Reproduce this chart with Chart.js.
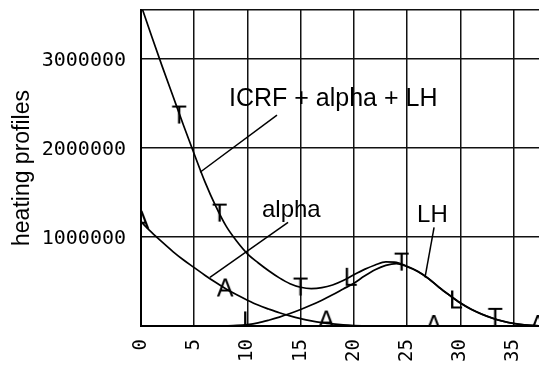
<!DOCTYPE html>
<html lang="en">
  <head>
    <meta charset="UTF-8" />
    <script src="https://cdn.jsdelivr.net/npm/chart.js@4.4.1/dist/chart.umd.min.js"></script>
    <title>heating profiles</title>
    <style>
      body { margin: 0; background: #fff; }
    </style>
  </head>
  <body>
    <canvas id="chart" width="539" height="369"></canvas>
    <script>
      // values
      const xs = [0, 1, 2, 3, 4, 5, 6, 7, 8, 9, 10, 11, 12, 13, 14, 15, 16, 17, 18, 19,
        20, 21, 22, 23, 24, 25, 26, 27, 28, 29, 30, 31, 32, 33, 34, 35, 36, 37, 38];
      const totalHeat = [3.6e6, 3.25e6, 2.91e6, 2.58e6, 2.25e6, 1.93e6, 1.62e6, 1.35e6, 1.12e6, 0.95e6,
        0.81e6, 0.71e6, 0.62e6, 0.54e6, 0.475e6, 0.435e6, 0.42e6, 0.43e6, 0.46e6, 0.51e6,
        0.575e6, 0.635e6, 0.685e6, 0.72e6, 0.715e6, 0.67e6, 0.615e6, 0.535e6, 0.435e6, 0.345e6,
        0.26e6, 0.19e6, 0.135e6, 0.09e6, 0.055e6, 0.03e6, 0.013e6, 0.004e6, 0];
      const alphaHeat = [1.17e6, 1.05e6, 0.94e6, 0.835e6, 0.74e6, 0.655e6, 0.57e6, 0.49e6, 0.415e6, 0.35e6,
        0.29e6, 0.235e6, 0.19e6, 0.148e6, 0.113e6, 0.083e6, 0.058e6, 0.038e6, 0.023e6, 0.012e6,
        0.005e6, 0.002e6, 0, 0, 0, 0, 0, 0, 0, 0, 0, 0, 0, 0, 0, 0, 0, 0, 0];
      const lhHeat = [0, 0, 0, 0, 0, 0, 0, 0, 0.002e6, 0.006e6,
        0.016e6, 0.035e6, 0.065e6, 0.1e6, 0.14e6, 0.185e6, 0.235e6, 0.29e6, 0.35e6, 0.415e6,
        0.48e6, 0.56e6, 0.63e6, 0.68e6, 0.7e6, 0.665e6, 0.612e6, 0.533e6, 0.433e6, 0.343e6,
        0.258e6, 0.188e6, 0.133e6, 0.088e6, 0.053e6, 0.028e6, 0.012e6, 0.004e6, 0];

      // letter symbols on the curves
      const tX = [3.6, 7.4, 15, 24.5, 33.3];
      const tY = [2.35e6, 1.25e6, 0.42e6, 0.7e6, 0.08e6];
      const aX = [0, 7.9, 17.4, 27.5, 37.3];
      const aY = [1.17e6, 0.41e6, 0.05e6, 0, 0];
      const lX = [10.15, 19.7, 29.6];
      const lY = [0.04e6, 0.53e6, 0.275e6];

      const xTicks = [0, 5, 10, 15, 20, 25, 30, 35];
      const yTicks = [1000000, 2000000, 3000000];
      const xMax = 37.4;
      const yMax = 3545000;

      // curve labels and their leader lines
      const noteText = ["ICRF + alpha + LH", "alpha", "LH"];
      const noteX = [8.27, 11.37, 25.94];
      const noteY = [2.466e6, 1.219e6, 1.163e6];
      const leadX1 = [12.78, 13.82, 27.54];
      const leadY1 = [2.365e6, 1.163e6, 1.107e6];
      const leadX2 = [5.55, 6.48, 26.69];
      const leadY2 = [1.725e6, 0.545e6, 0.545e6];

      const pts = (x, y) => x.map((v, i) => ({ x: v, y: y[i] }));

      function glyph(ch, size) {
        let c = document.createElement("canvas");
        c.width = 30;
        c.height = 30;
        let g = c.getContext("2d");
        g.font = size + 'px "Liberation Sans", Arial';
        g.textAlign = "center";
        g.textBaseline = "middle";
        g.fillStyle = "#000";
        g.fillText(ch, 15, 15);
        return c;
      }

      const notes = {
        id: "notes",
        afterDatasetsDraw(chart) {
          const { ctx, scales } = chart;
          ctx.save();
          ctx.strokeStyle = "#000";
          ctx.lineWidth = 1.5;
          for (let i = 0; i < noteText.length; i++) {
            ctx.beginPath();
            ctx.moveTo(scales.x.getPixelForValue(leadX1[i]), scales.y.getPixelForValue(leadY1[i]));
            ctx.lineTo(scales.x.getPixelForValue(leadX2[i]), scales.y.getPixelForValue(leadY2[i]));
            ctx.stroke();
          }
          ctx.fillStyle = "#000";
          ctx.textAlign = "left";
          ctx.textBaseline = "alphabetic";
          noteText.forEach((t, i) => {
            ctx.font = (i == 0 ? 25 : 24) + 'px "Liberation Sans", Arial';
            ctx.fillText(t, scales.x.getPixelForValue(noteX[i]), scales.y.getPixelForValue(noteY[i]));
          });
          ctx.restore();
        },
      };

      const curve = (y) => ({
        data: pts(xs, y),
        borderColor: "#000",
        borderWidth: 1.7,
        pointRadius: 0,
        fill: false,
        cubicInterpolationMode: "monotone",
      });
      const marks = (x, y, img) => ({
        data: pts(x, y),
        showLine: false,
        pointStyle: img,
        pointRadius: 10,
      });

      const gridOpts = { color: "#111", lineWidth: 1.5, drawTicks: false };
      const mono = '"DejaVu Sans Mono", monospace';

      new Chart(document.getElementById("chart"), {
        type: "line",
        data: {
          datasets: [
            curve(totalHeat),
            curve(alphaHeat),
            curve(lhHeat),
            marks(tX, tY, glyph("T", 25)),
            marks(aX, aY, glyph("A", 25)),
            marks(lX, lY, glyph("L", 25)),
          ],
        },
        options: {
          responsive: false,
          animation: false,
          events: [],
          layout: { autoPadding: false, padding: { top: 10, right: 0, bottom: 0, left: 0 } },
          plugins: { legend: { display: false }, tooltip: { enabled: false } },
          scales: {
            x: {
              type: "linear",
              min: 0,
              max: xMax,
              afterBuildTicks: (s) => { s.ticks = xTicks.map((v) => ({ value: v })); },
              afterFit: (s) => {
                s.height = 43;
                s.paddingLeft = 0;
                s.paddingRight = 0;
              },
              grid: gridOpts,
              border: { color: "#000", width: 2 },
              ticks: {
                autoSkip: false,
                minRotation: 90,
                maxRotation: 90,
                padding: 13,
                color: "#000",
                font: { family: mono, size: 19 },
              },
            },
            y: {
              min: 0,
              max: yMax,
              afterBuildTicks: (s) => { s.ticks = [0].concat(yTicks, [yMax]).map((v) => ({ value: v })); },
              afterFit: (s) => {
                s.width = 141;
                s.paddingTop = 0;
                s.paddingBottom = 0;
              },
              grid: gridOpts,
              border: { color: "#000", width: 2 },
              ticks: {
                padding: 15,
                labelOffset: 2,
                color: "#000",
                font: { family: mono, size: 20 },
                callback: (v) => (yTicks.includes(v) ? String(v) : ""),
              },
              title: {
                display: true,
                text: "heating profiles",
                color: "#000",
                font: { family: '"Liberation Sans", Arial', size: 23 },
                padding: { top: 9, bottom: 0 },
              },
            },
          },
        },
        plugins: [notes],
      });
    </script>
  </body>
</html>
